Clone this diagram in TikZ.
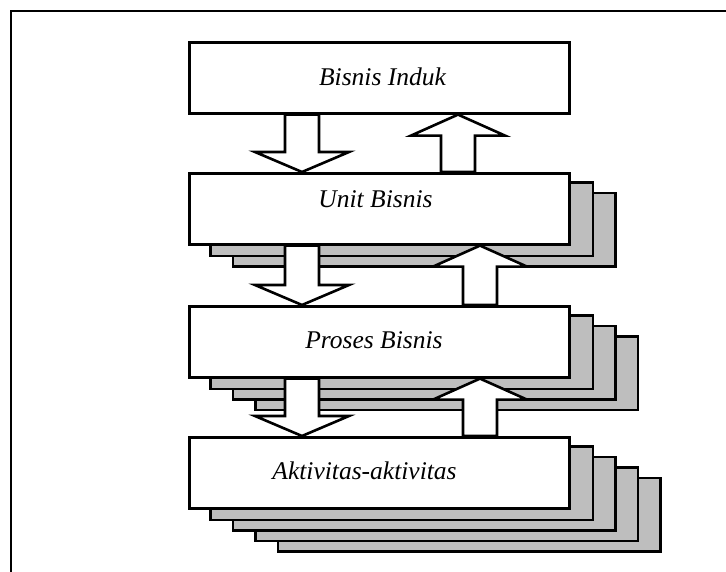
\documentclass[tikz,border=0pt]{standalone}
\usepackage{fontspec}
\setmainfont{Liberation Serif}
\usetikzlibrary{calc,backgrounds}
\definecolor{shadowgray}{RGB}{190,190,190}

% block arrow from the bottom of #1 down to the top of #2, centred at x = #3
\newcommand\flowdown[3]{%
  \draw[blockarrow] let \p1=(#1.south), \p2=(#2.north), \p3=(#3,0) in
    ({\x3-17pt},\y1) -- ({\x3-17pt},{\y2+20pt}) -- ({\x3-47pt},{\y2+20pt})
    -- (\x3,\y2) -- ({\x3+47pt},{\y2+20pt}) -- ({\x3+17pt},{\y2+20pt})
    -- ({\x3+17pt},\y1) -- cycle;}
% block arrow from the top of #1 up to the bottom of #2, centred at x = #3
\newcommand\flowup[3]{%
  \draw[blockarrow] let \p1=(#1.north), \p2=(#2.south), \p3=(#3,0) in
    ({\x3-17pt},\y1) -- ({\x3-17pt},{\y2-21pt}) -- ({\x3-47pt},{\y2-21pt})
    -- (\x3,\y2) -- ({\x3+47pt},{\y2-21pt}) -- ({\x3+17pt},{\y2-21pt})
    -- ({\x3+17pt},\y1) -- cycle;}
% stacked copies behind a layer box
\newcommand\stackcopies[2]{%
  \begin{scope}[on background layer]
    \foreach \k in {#2,...,1}{
      \draw[shadowbox] ($(#1.north west)+(22.5*\k,10.5*\k)$)
        rectangle ($(#1.south east)+(22.5*\k,10.5*\k)$);
    }
  \end{scope}}

\begin{document}
\begin{tikzpicture}[x=1pt,y=-1pt,line width=2.6pt,
  layerbox/.style={draw=black,fill=white,line width=2.6pt,
    minimum width=380pt,minimum height=71pt,inner sep=0pt,anchor=north west},
  shadowbox/.style={draw=black,fill=shadowgray,line width=2.6pt},
  blockarrow/.style={draw=black,fill=white,line width=2.6pt},
  framebox/.style={draw=black,line width=2.6pt},
  layertext/.style={anchor=base,inner sep=0pt,
    font=\fontsize{25.5}{30}\selectfont\itshape}]
  \useasboundingbox (0,0) rectangle (726,572);

  % outer frame
  \begin{scope}[on background layer]
    \draw[framebox] (11,11) rectangle (780,620);
  \end{scope}

  % the four layers
  \node[layerbox] (induk) at (188,41) {};
  \node[layerbox] (unit) at (188,172) {};
  \node[layerbox] (proses) at (188,305) {};
  \node[layerbox] (aktivitas) at (188,436) {};

  \stackcopies{unit}{2}
  \stackcopies{proses}{3}
  \stackcopies{aktivitas}{4}

  \node[layertext] (tinduk) at (382.5,85.7) {Bisnis Induk};
  \node[layertext] (tunit) at (375.5,207.5) {Unit Bisnis};
  \node[layertext] (tproses) at (374,348.3) {Proses Bisnis};
  \node[layertext] (taktivitas) at (364.5,479) {Aktivitas-aktivitas};

  % downward flows
  \flowdown{induk}{unit}{302}
  \flowdown{unit}{proses}{302}
  \flowdown{proses}{aktivitas}{302}

  % upward flows
  \flowup{unit}{induk}{458}
  \flowup{proses}{unit}{480}
  \flowup{aktivitas}{proses}{480}
\end{tikzpicture}
\end{document}
